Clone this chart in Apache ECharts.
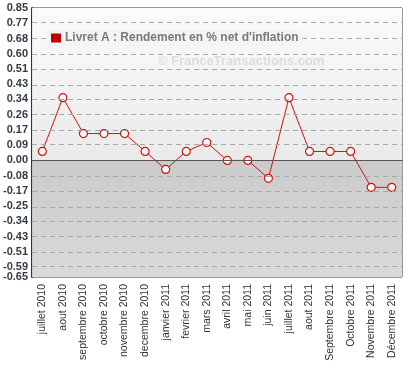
<!DOCTYPE html>
<html><head><meta charset="utf-8">
<script src="https://cdn.jsdelivr.net/npm/echarts@6/dist/echarts.min.js"></script>
<style>html,body{margin:0;padding:0;background:#fff}#c{width:419px;height:372px}</style>
</head><body><div id="c"></div>
<script>
var categories = ['juillet 2010','aout 2010','septembre 2010','octobre 2010','novembre 2010','decembre 2010','janvier 2011','fevrier 2011','mars 2011','avril 2011','mai 2011','juin 2011','juillet 2011','aout 2011','Septembre 2011','Octobre 2011','Novembre 2011','Décembre 2011'];
var rendement = [0.05, 0.35, 0.15, 0.15, 0.15, 0.05, -0.05, 0.05, 0.10, 0.00, 0.00, -0.10, 0.35, 0.05, 0.05, 0.05, -0.15, -0.15];
var tickValues = [0.85, 0.765, 0.68, 0.595, 0.51, 0.425, 0.34, 0.255, 0.17, 0.085, 0, -0.085, -0.17, -0.255, -0.34, -0.425, -0.51, -0.595];
var tickLabels = ['0.85','0.77','0.68','0.60','0.51','0.43','0.34','0.26','0.17','0.09','0.00','-0.08','-0.17','-0.25','-0.34','-0.43','-0.51','-0.59'];
var minTickLabel = '-0.65';
var seriesName = "Livret A : Rendement en % net d'inflation";
var yMin = -0.65, yMax = 0.85;

var chart = echarts.init(document.getElementById('c'), null, {renderer:'canvas'});
var FONT = '"Liberation Sans", Arial, sans-serif';
var yLabelStyle = {fontSize: 11, fontWeight: 'bold', color: '#333a48', margin: 4, fontFamily: FONT};
chart.setOption({
  animation: false,
  textStyle: {fontFamily: FONT},
  grid: {left: 32, right: 17, top: 8, bottom: 95, show: true, borderColor: '#333', borderWidth: 1, backgroundColor: 'transparent'},
  legend: {
    left: 47, top: 30, padding: [2, 4, 2, 4], z: 20, itemWidth: 10, itemHeight: 9, itemGap: 5,
    backgroundColor: '#f4f4f4',
    icon: 'path://M0 0L10 0L10 9L0 9Z',
    itemStyle: {color: '#c00000', borderWidth: 0, borderColor: 'transparent'},
    lineStyle: {width: 0, opacity: 0},
    data: [{name: seriesName}],
    textStyle: {fontFamily: FONT, fontWeight: 'bold', fontSize: 12, color: '#7a7a7a', padding: [0,0,0,-1]}
  },
  graphic: [{
    type: 'text', left: 158, top: 55, silent: true, z: 10,
    style: {text: '© FranceTransactions.com', fill: '#dcdcdc', font: 'bold 13px ' + FONT}
  }],
  xAxis: {
    type: 'category', data: categories, boundaryGap: true,
    axisLine: {show: true, lineStyle: {color: '#333', width: 1}},
    axisTick: {show: true, alignWithLabel: true, length: 5, lineStyle: {color: '#111', width: 2}},
    axisLabel: {rotate: 90, interval: 0, fontSize: 10.5, color: '#333', margin: 7, fontFamily: FONT},
    splitLine: {show: false}
  },
  yAxis: [{
    type: 'value', min: yMin, max: yMax, position: 'left',
    axisLine: {show: true, lineStyle: {color: '#333', width: 2}},
    axisTick: {show: false, customValues: tickValues},
    axisLabel: Object.assign({customValues: tickValues, hideOverlap: false, showMinLabel: true, showMaxLabel: true,
      formatter: function (v) { for (var i = 0; i < tickValues.length; i++) { if (Math.abs(tickValues[i] - v) < 1e-6) return tickLabels[i]; } return ''; }}, yLabelStyle),
    splitLine: {show: false}
  }, {
    type: 'value', min: yMin, max: yMax, position: 'left', offset: 0,
    axisLine: {show: false},
    axisTick: {show: false, customValues: [yMin]},
    axisLabel: Object.assign({customValues: [yMin], showMinLabel: true, formatter: function () { return minTickLabel; }}, yLabelStyle),
    splitLine: {show: false}
  }],
  series: [{
    name: 'bg', type: 'line', data: [], z: -1, silent: true, legendHoverLink: false,
    markArea: {
      silent: true,
      data: [
        [{yAxis: 0, itemStyle: {color: {type: 'linear', x: 0, y: 0, x2: 0, y2: 1, colorStops: [{offset: 0, color: '#fbfbfb'}, {offset: 1, color: '#eaeaea'}]}}}, {yAxis: yMax}],
        [{yAxis: yMin, itemStyle: {color: {type: 'linear', x: 0, y: 0, x2: 0, y2: 1, colorStops: [{offset: 0, color: '#cbcbcb'}, {offset: 1, color: '#d9d9d9'}]}}}, {yAxis: 0}]
      ]
    },
    markLine: {
      silent: true, symbol: 'none', label: {show: false},
      data: tickValues.filter(function (v) { return v !== 0 && v !== yMax; }).map(function (v) { return {yAxis: v}; }),
      lineStyle: {color: '#a8a8a8', type: [5, 4], width: 1}
    }
  }, {
    name: seriesName, type: 'line', data: rendement, z: 3,
    symbol: 'circle', symbolSize: 8, showAllSymbol: true,
    lineStyle: {color: '#d01010', width: 1},
    itemStyle: {color: '#ffffff', borderColor: '#d01010', borderWidth: 1.2},
    markLine: {
      silent: true, symbol: 'none', label: {show: false},
      data: [{yAxis: 0}],
      lineStyle: {color: '#555', type: 'solid', width: 1}
    }
  }]
});
</script>
</body></html>
